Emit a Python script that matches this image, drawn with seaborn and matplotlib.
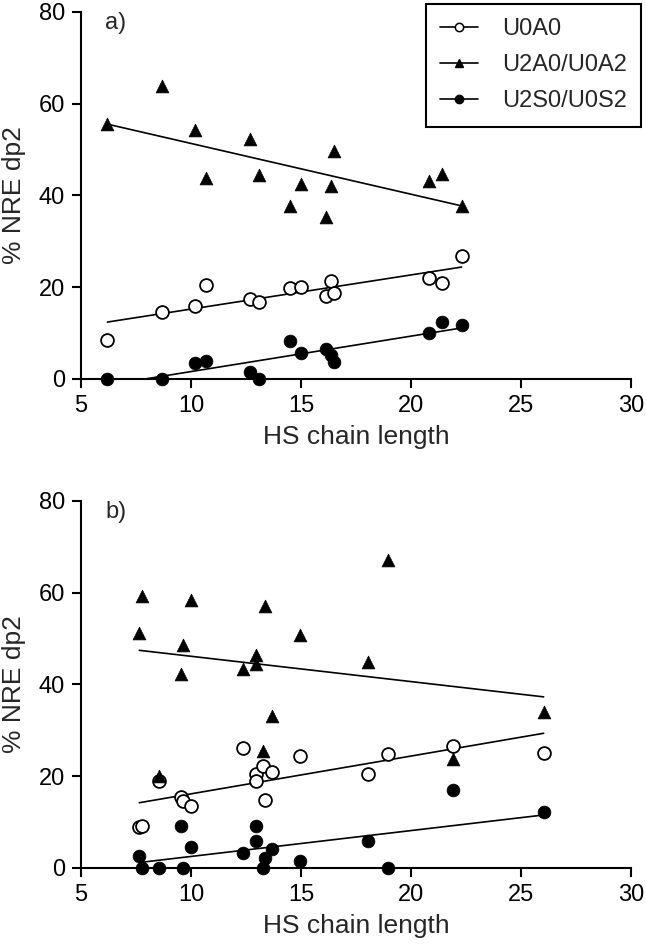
import matplotlib
matplotlib.use("Agg")
import matplotlib.pyplot as plt
from matplotlib.lines import Line2D
import numpy as np
import pandas as pd
import seaborn as sns

# ---------------- data ----------------
# Panel a
a_len = [6.2, 8.7, 10.2, 10.7, 12.7, 13.1, 14.5, 15.0, 16.15, 16.35, 16.5, 20.8, 21.4, 22.3]
a_u0a0 = [8.6, 14.5, 15.8, 20.5, 17.4, 16.8, 19.8, 20.1, 18.0, 21.4, 18.8, 22.1, 20.9, 26.7]
a_u2a0 = [55.5, 63.9, 54.3, 43.9, 52.3, 44.4, 37.8, 42.5, 35.3, 42.1, 49.8, 43.2, 44.7, 37.6]
a_u2s0 = [0.0, 0.0, 3.4, 3.9, 1.6, 0.0, 8.3, 5.7, 6.5, 5.2, 3.6, 10.0, 12.5, 11.8]

# Panel b
b_len = [7.65, 7.77, 8.56, 9.55, 9.65, 10.0, 12.38, 12.95, 12.95, 13.26, 13.36, 13.68,
         14.97, 18.03, 18.94, 21.92, 26.03]
b_u0a0 = [8.9, 9.2, 18.9, 15.4, 14.7, 13.5, 26.2, 20.4, 18.9, 22.3, 14.9, 20.9,
          24.4, 20.4, 24.9, 26.5, 25.1]
b_u2a0 = [51.3, 59.3, 20.0, 42.2, 48.7, 58.4, 43.4, 46.5, 44.4, 25.5, 57.2, 33.1,
          50.7, 44.9, 67.1, 23.8, 34.0]
b_u2s0 = [2.7, 0.0, 0.0, 9.1, 0.0, 4.6, 3.3, 9.2, 5.8, 0.0, 2.2, 4.1,
          1.6, 5.8, 0.0, 16.9, 12.2]

series_names = ["U0A0", "U2A0/U0A2", "U2S0/U0S2"]
panel_labels = ["a)", "b)"]
x_ticks = [5, 10, 15, 20, 25, 30]
y_ticks = [0, 20, 40, 60, 80]

# ---------------- style ----------------
sns.set_style("ticks")
plt.rcParams["font.family"] = ["Liberation Sans", "DejaVu Sans"]

markers = {"U0A0": "o", "U2A0/U0A2": "^", "U2S0/U0S2": "o"}
scatter_styles = {
    "U0A0": dict(s=85, facecolors="white", edgecolors="black", linewidths=1.3),
    "U2A0/U0A2": dict(s=85, facecolors="black", edgecolors="black", linewidths=0.5),
    "U2S0/U0S2": dict(s=85, facecolors="black", edgecolors="black", linewidths=0.5),
}

fig = plt.figure(figsize=(6.46, 9.51), dpi=100)
ax_a = fig.add_axes([0.1254, 0.6015, 0.8514, 0.3859])
ax_b = fig.add_axes([0.1254, 0.0873, 0.8514, 0.3859])

panels = [
    (ax_a, a_len, [a_u0a0, a_u2a0, a_u2s0]),
    (ax_b, b_len, [b_u0a0, b_u2a0, b_u2s0]),
]

for (ax, xs, ys_list), plabel in zip(panels, panel_labels):
    for name, ys in zip(series_names, ys_list):
        df = pd.DataFrame({"len": xs, "val": ys})
        kw = dict(scatter_styles[name])
        kw["clip_on"] = False
        kw["zorder"] = 3
        kw["alpha"] = 1
        sns.regplot(data=df, x="len", y="val", ax=ax, ci=None, color="black",
                    marker=markers[name],
                    scatter_kws=kw,
                    line_kws=dict(color="black", lw=1.2, zorder=2))
    ax.set_xlim(5, 30)
    ax.set_ylim(0, 80)
    ax.set_xticks(x_ticks)
    ax.set_yticks(y_ticks)
    ax.set_xlabel("HS chain length", fontsize=19, labelpad=6)
    ax.set_ylabel("% NRE dp2", fontsize=19, labelpad=9)
    ax.tick_params(axis="both", labelsize=17, width=1.5, length=6.5, direction="out",
                   color="black", labelcolor="black", pad=5)
    for sp in ["left", "bottom"]:
        ax.spines[sp].set_linewidth(1.5)
        ax.spines[sp].set_color("black")
    sns.despine(ax=ax)
    ax.text(0.044, 1.0, plabel, transform=ax.transAxes, fontsize=17,
            ha="left", va="top")

handles = [
    Line2D([], [], color="black", lw=1.2, marker="o", markersize=6,
           markerfacecolor="white", markeredgecolor="black", markeredgewidth=1.1),
    Line2D([], [], color="black", lw=1.2, marker="^", markersize=6,
           markerfacecolor="black", markeredgecolor="black"),
    Line2D([], [], color="black", lw=1.2, marker="o", markersize=6,
           markerfacecolor="black", markeredgecolor="black"),
]
leg = ax_a.legend(handles, series_names, loc="upper right",
                  bbox_to_anchor=(1.018, 1.022), fontsize=17, frameon=True,
                  fancybox=False, edgecolor="black", framealpha=1,
                  handlelength=1.6, handletextpad=1.0, labelspacing=0.6,
                  borderpad=0.6, borderaxespad=0)
leg.get_frame().set_linewidth(1.5)

fig.savefig("out.png", dpi=100)
